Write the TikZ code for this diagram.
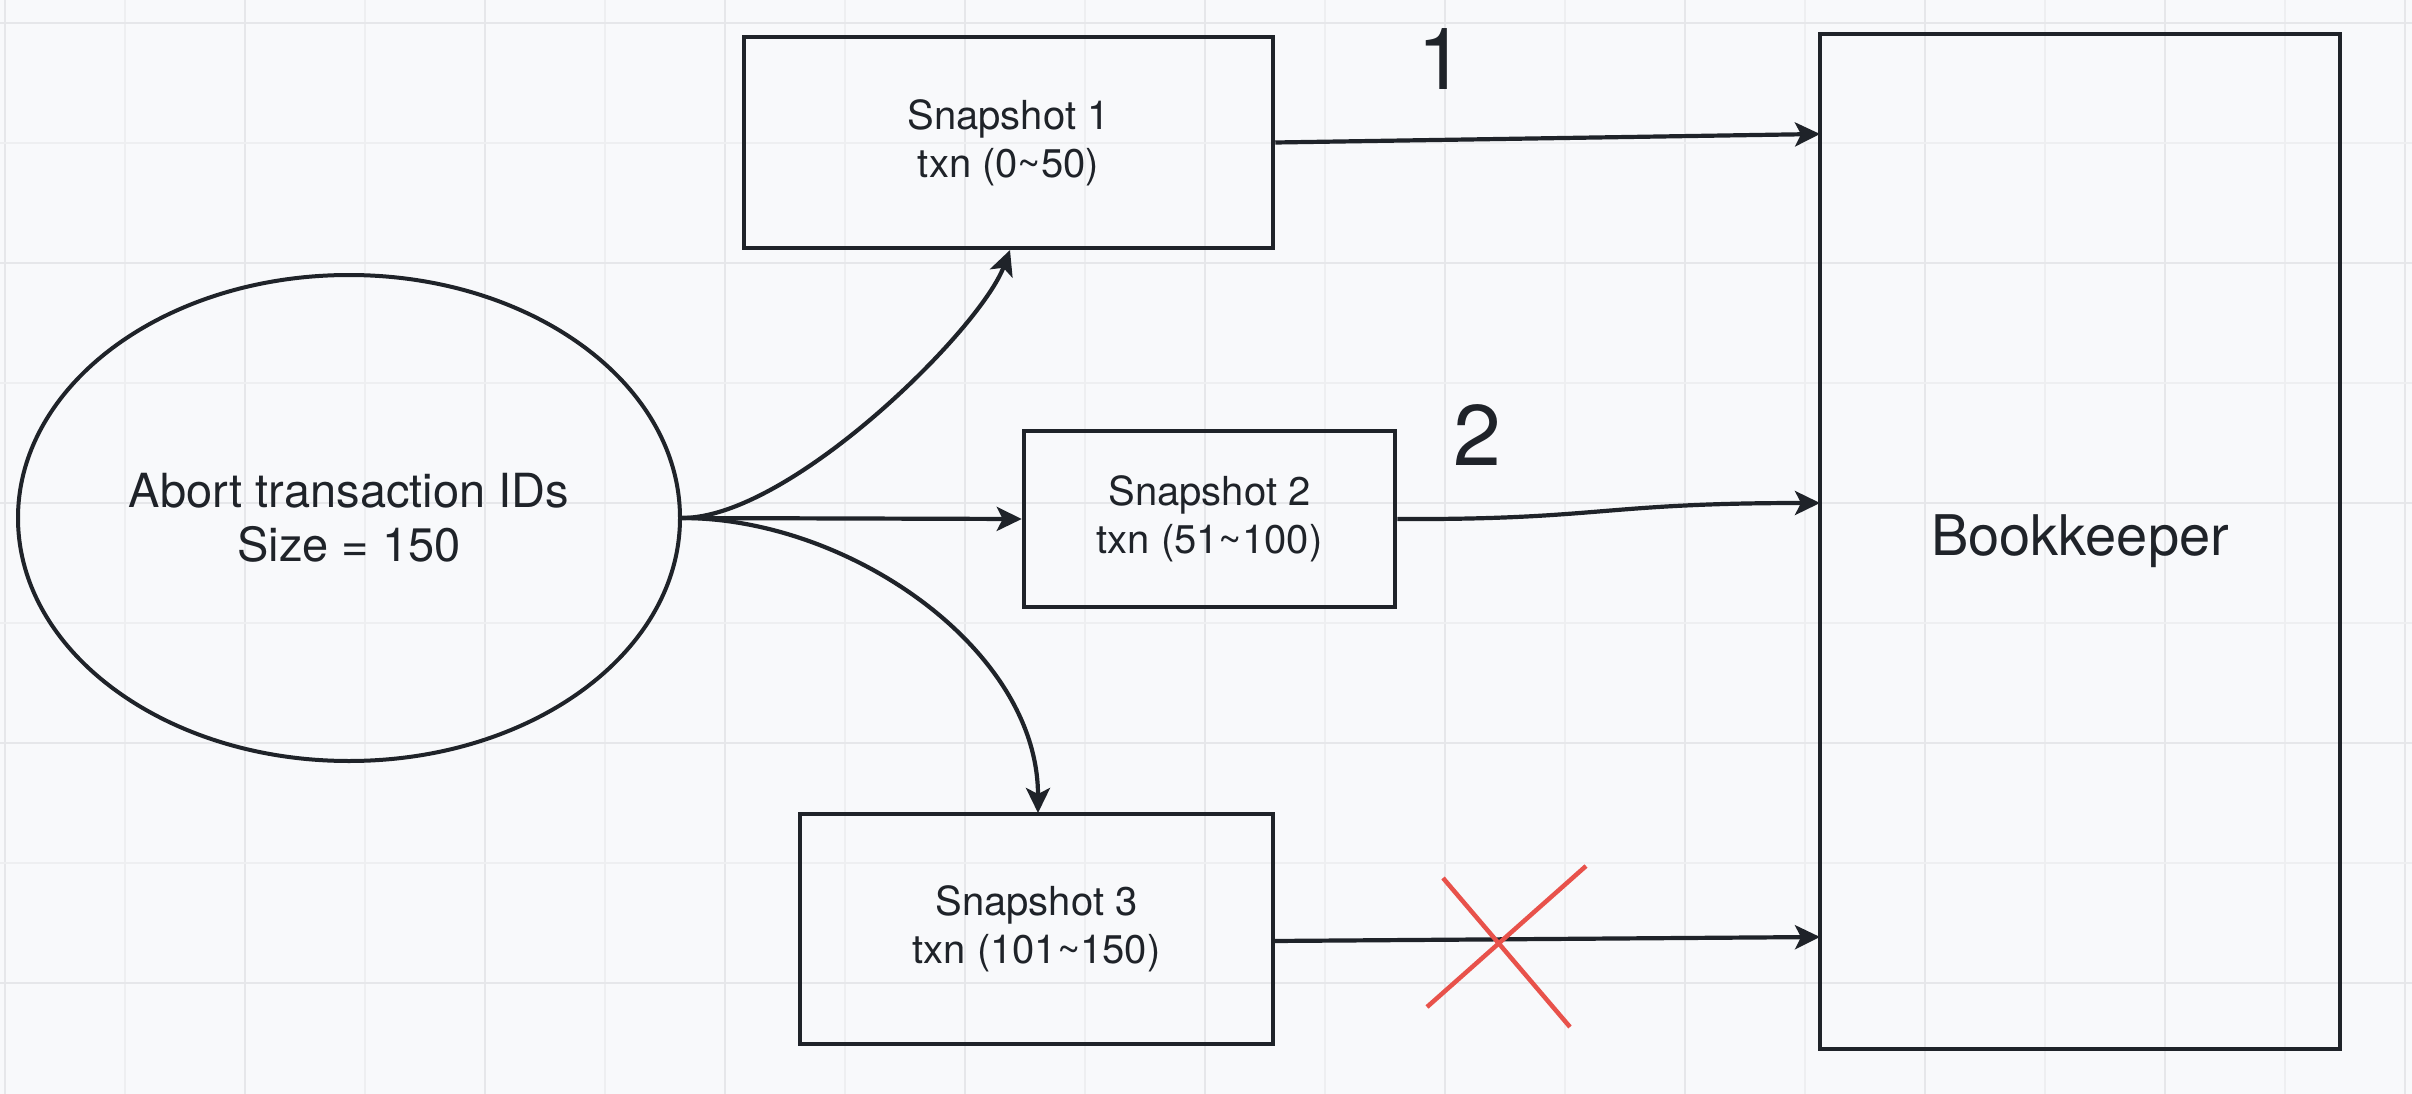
\documentclass[tikz,border=0pt]{standalone}
\usepackage{fontspec}
\setmainfont{TeX Gyre Heros}
\usetikzlibrary{arrows.meta,shapes.geometric}
\definecolor{ink}{HTML}{1F2329}
\definecolor{bgc}{HTML}{F8F9FB}
\definecolor{gridminor}{HTML}{EEEFF1}
\definecolor{gridmajor}{HTML}{E6E7EA}
\definecolor{crossred}{HTML}{E8524B}
\tikzset{
  minorline/.style={gridminor, line width=1.5pt},
  majorline/.style={gridmajor, line width=2.5pt},
  snapbox/.style={draw=ink, line width=4.5pt, rectangle, inner sep=0pt, align=center,
    text=ink, font=\fontsize{40}{48}\selectfont},
  conn/.style={draw=ink, line width=4.2pt, -{Stealth[length=25pt,width=24pt,inset=6pt]}},
  numlabel/.style={text=ink, inner sep=0pt, font=\fontsize{86}{90}\selectfont},
  crossline/.style={crossred, line width=4.5pt}
}
\begin{document}
\begin{tikzpicture}[x=1pt,y=-1pt]
\fill[bgc] (0,0) rectangle (2412,1094);
\useasboundingbox (0,0) rectangle (2412,1094);
% grid
\foreach \i in {0,...,20}{
  \pgfmathtruncatemacro{\m}{mod(\i,2)}
  \ifnum\m=0
    \draw[majorline] (5+120*\i,0) -- ++(0,1094);
  \else
    \draw[minorline] (5+120*\i,0) -- ++(0,1094);
  \fi
}
\foreach \j in {0,...,9}{
  \pgfmathtruncatemacro{\m}{mod(\j,2)}
  \ifnum\m=0
    \draw[majorline] (0,23+120*\j) -- ++(2412,0);
  \else
    \draw[minorline] (0,23+120*\j) -- ++(2412,0);
  \fi
}
% nodes
\node[ellipse, draw=ink, line width=4pt, minimum width=662pt, minimum height=486pt,
  inner sep=0pt, align=center, text=ink, font=\fontsize{47}{54}\selectfont]
  (abort) at (349,518) {Abort transaction IDs\\Size = 150};
\node[snapbox, minimum width=529pt, minimum height=211pt] (s1) at (1008.5,142.5)
  {Snapshot 1\\txn (0\textasciitilde 50)};
\node[snapbox, minimum width=371pt, minimum height=176pt] (s2) at (1209.5,519)
  {Snapshot 2\\txn (51\textasciitilde 100)};
\node[snapbox, minimum width=473pt, minimum height=230pt] (s3) at (1036.5,929)
  {Snapshot 3\\txn (101\textasciitilde 150)};
\node[draw=ink, line width=4.5pt, rectangle, inner sep=0pt, minimum width=520pt,
  minimum height=1015pt, text=ink, font=\fontsize{56}{60}\selectfont]
  (bk) at (2080,541.5) {Bookkeeper};
\node[numlabel] (n1) at (1441,59) {1};
\node[numlabel] (n2) at (1477,435) {2};
% connector end points
\coordinate (b1) at (1820,134);
\coordinate (b2) at (1820,503);
\coordinate (b3) at (1820,937);
\coordinate (t1) at (1010,250);
\coordinate (t3) at (1038,813);
\coordinate (s3out) at (1273,941);
% connectors
\draw[conn] (abort.east) .. controls (790,518) and (980,330) .. (t1);
\draw[conn] (abort.east) -- (s2.west);
\draw[conn] (abort.east) .. controls (850,518) and (1038,650) .. (t3);
\draw[conn] (s1.east) -- (b1);
\draw[conn] (s2.east) .. controls (1600,520) and (1600,503) .. (b2);
\draw[conn] (s3out) -- (b3);
% red cross
\coordinate (x1a) at (1443,878);
\coordinate (x1b) at (1570,1027);
\coordinate (x2a) at (1586,866);
\coordinate (x2b) at (1427,1007);
\draw[crossline] (x1a) -- (x1b);
\draw[crossline] (x2a) -- (x2b);
\end{tikzpicture}
\end{document}
